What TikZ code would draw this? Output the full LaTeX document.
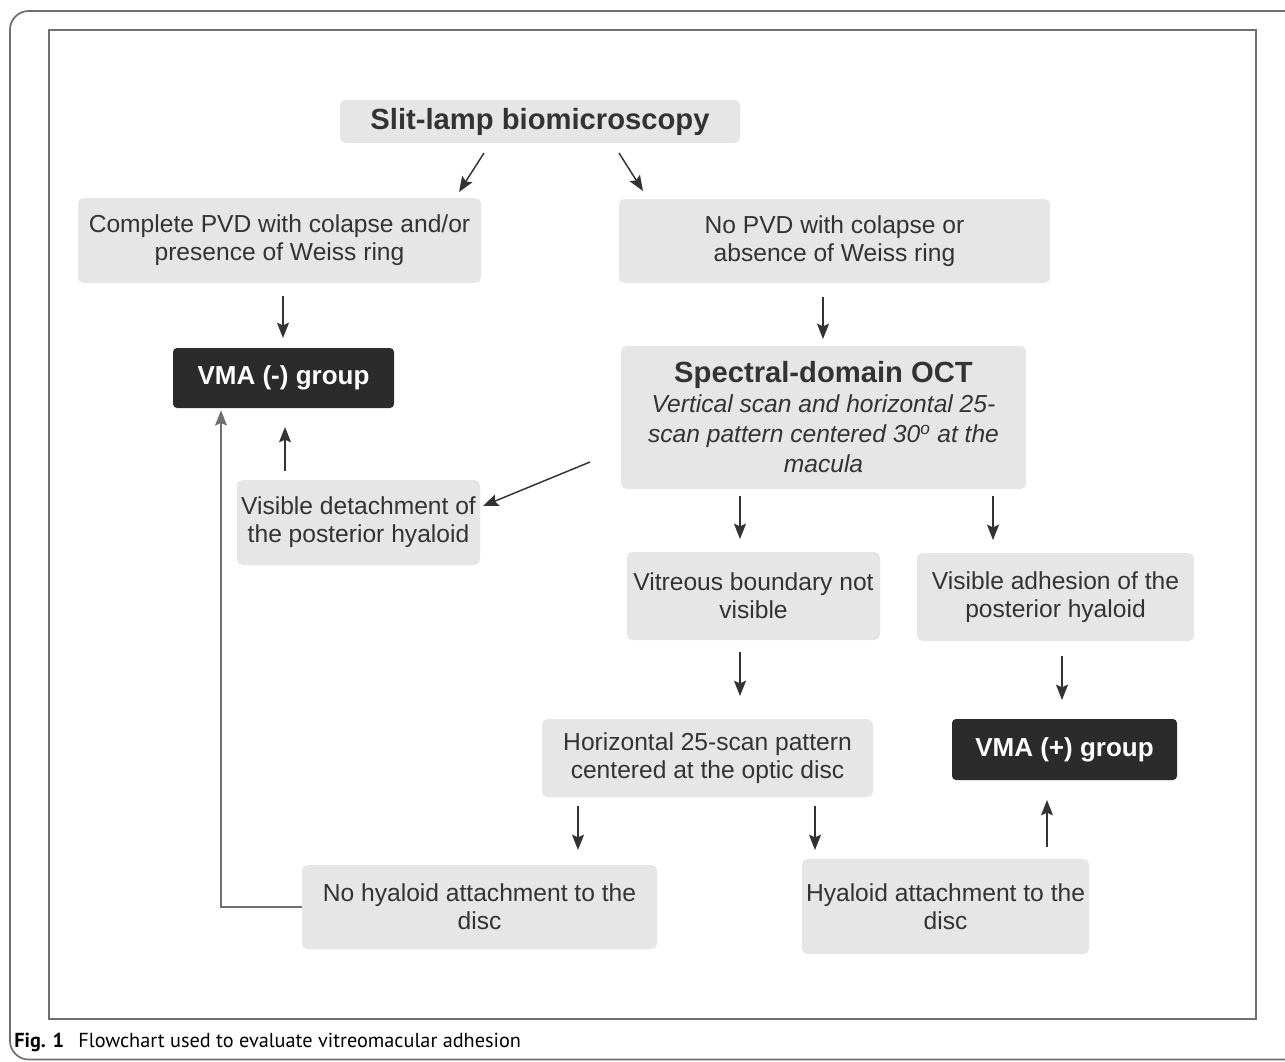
\documentclass[tikz,border=0pt]{standalone}
\usepackage{fontspec}
\setmainfont{Liberation Sans}
\newfontfamily\capfont{PT Sans}
\usetikzlibrary{arrows.meta}
\definecolor{boxgray}{HTML}{E6E6E6}
\definecolor{darkbox}{HTML}{2B2B2B}
\definecolor{txt}{HTML}{333333}
\definecolor{framegray}{HTML}{707070}
\tikzset{
  sz/.style 2 args={minimum width=#1*0.75pt, minimum height=#2*0.75pt},
  graybox/.style={fill=boxgray, rounded corners=4pt, text=txt, align=center, inner sep=0pt,
    font=\fontsize{18.45}{21}\selectfont},
  darkbx/.style={fill=darkbox, rounded corners=3pt, text=white, align=center, inner sep=0pt,
    font=\fontsize{19.5}{22}\selectfont\bfseries},
  arr/.style={draw=txt, line width=1.1pt, -{Stealth[length=11.5pt,width=9pt,inset=2pt]}},
  elbow/.style={draw=framegray, line width=1.1pt, -{Stealth[length=11.5pt,width=9pt,inset=2pt]}},
}
\begin{document}
\begin{tikzpicture}[x=0.75pt,y=-0.75pt]
\useasboundingbox (0,0) rectangle (1285,1061);
% frames
\draw[framegray, line width=1.3pt, rounded corners=14pt] (1290,11) -- (10,11) -- (10,1059.5) -- (1290,1059.5);
\draw[framegray, line width=1.6pt] (49,30) rectangle (1256,1019);
% nodes
\node[graybox, sz={400}{43}, font=\fontsize{21.9}{25}\selectfont\bfseries] (slit) at (540,121.5) {Slit-lamp biomicroscopy};
\node[graybox, sz={403}{85}] (cpvd) at (279.5,240.5) {Complete PVD with colapse and/or\\presence of Weiss ring};
\node[graybox, sz={431}{84}] (npvd) at (834.5,241) {No PVD with colapse or\\absence of Weiss ring};
\node[darkbx, sz={221}{60}] (vman) at (283.5,378) {VMA (-) group};
\node[graybox, sz={405}{143}, font=\fontsize{18.45}{22.5}\selectfont] (oct) at (823.5,417.5)
  {{\fontsize{21.9}{22.5}\selectfont\bfseries Spectral-domain OCT}\\
   \itshape Vertical scan and horizontal 25-\\
   \itshape scan pattern centered 30\textsuperscript{o} at the\\
   \itshape macula};
\node[graybox, sz={243}{85}] (vdet) at (358.5,522.5) {Visible detachment of\\the posterior hyaloid};
\node[graybox, sz={253}{88}] (vbnv) at (753.5,596) {Vitreous boundary not\\visible};
\node[graybox, sz={277}{88}] (vadh) at (1055.5,597) {Visible adhesion of the\\posterior hyaloid};
\node[graybox, sz={331}{78}] (h25) at (707.5,758) {Horizontal 25-scan pattern\\centered at the optic disc};
\node[darkbx, sz={225}{61}] (vmap) at (1064.5,749.5) {VMA (+) group};
\node[graybox, sz={355}{84}] (nohy) at (479.5,907) {No hyaloid attachment to the\\disc};
\node[graybox, sz={287}{95}] (hyat) at (945.5,906.5) {Hyaloid attachment to the\\disc};
% arrow end points
\coordinate (a1s) at (484,153); \coordinate (a1e) at (459,192);
\coordinate (a2s) at (619,153); \coordinate (a2e) at (643,191);
\coordinate (a3s) at (283,296); \coordinate (a3e) at (283,338);
\coordinate (a4s) at (823,297); \coordinate (a4e) at (823,339);
\coordinate (a5s) at (285,471); \coordinate (a5e) at (285,427);
\coordinate (a6s) at (590,462); \coordinate (a6e) at (483,506);
\coordinate (a7s) at (740,496); \coordinate (a7e) at (740,539);
\coordinate (a8s) at (993,496); \coordinate (a8e) at (993,540);
\coordinate (a9s) at (740,652); \coordinate (a9e) at (740,696);
\coordinate (a10s) at (1062,656); \coordinate (a10e) at (1062,700);
\coordinate (a11s) at (578,806); \coordinate (a11e) at (578,850);
\coordinate (a12s) at (815,806); \coordinate (a12e) at (815,850);
\coordinate (a13s) at (1047,847); \coordinate (a13e) at (1047,800);
\foreach \i in {1,...,13} {\draw[arr] (a\i s) -- (a\i e);}
% elbow connector
\coordinate (elb) at (221,907);
\draw[elbow] (nohy.west) -- (elb) -- ([yshift=-1.5pt]elb |- vman.south);
% caption
\node[anchor=base west, inner sep=0pt, text=black, font=\capfont\fontsize{15.2}{18}\selectfont] (cap) at (14,1047)
  {\textbf{Fig. 1}\hspace{0.7em}Flowchart used to evaluate vitreomacular adhesion};
\end{tikzpicture}
\end{document}
